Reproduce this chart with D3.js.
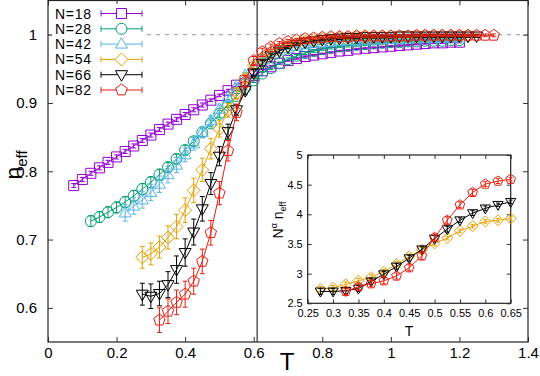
<!DOCTYPE html>
<html><head><meta charset="utf-8">
<script src="https://cdn.jsdelivr.net/npm/d3@7"></script>
<style>body{margin:0;background:#fff}svg{display:block}text{font-family:"Liberation Sans",Arial,sans-serif}</style>
</head><body><svg id="c" width="540" height="376"></svg>
<script>
// ---------- data ----------
const temps = [0.075,0.1,0.125,0.15,0.175,0.2,0.225,0.25,0.275,0.3,0.325,0.35,0.375,0.4,0.425,0.45,0.475,0.5,0.525,0.55,0.575,0.6,0.625,0.65,0.675,0.7,0.725,0.75,0.775,0.8,0.825,0.85,0.875,0.9,0.925,0.95,0.975,1.0,1.025,1.05,1.075,1.1,1.125,1.15,1.175,1.2,1.225,1.25,1.275,1.3];
const sizes = ["N=18","N=28","N=42","N=54","N=66","N=82"];
const startT = [0.075,0.125,0.225,0.275,0.275,0.325];
const n18 = [0.779,0.788,0.797,0.805,0.813,0.821,0.829,0.837,0.845,0.853,0.861,0.869,0.876,0.883,0.890,0.897,0.904,0.911,0.918,0.926,0.933,0.940,0.947,0.953,0.958,0.962,0.965,0.968,0.970,0.972,0.974,0.976,0.977,0.979,0.980,0.981,0.982,0.983,0.984,0.985,0.986,0.987,0.988,0.988,0.989,0.989];
const e18 = [0.003,0.003,0.003,0.003,0.003,0.003,0.003,0.003,0.003,0.003,0.003,0.003,0.003,0.003,0.003,0.003,0.002,0.002,0.002,0.002,0.002,0.002,0.002,0.002,0.001,0.001,0.001,0.001,0.001,0.001,0.001,0.001,0.001,0.001,0.001,0.001,0.001,0.001,0.001,0.001,0.001,0.001,0.001,0.001,0.001,0.001];
const n28 = [0.727,0.733,0.740,0.747,0.755,0.764,0.774,0.784,0.795,0.806,0.818,0.831,0.844,0.857,0.870,0.884,0.897,0.910,0.922,0.933,0.943,0.951,0.958,0.964,0.969,0.973,0.976,0.979,0.981,0.983,0.984,0.985,0.986,0.987,0.988,0.989,0.989,0.990,0.990,0.991,0.991,0.991,0.992,0.992];
const e28 = [0.008,0.008,0.008,0.008,0.008,0.008,0.008,0.008,0.008,0.007,0.007,0.007,0.006,0.006,0.005,0.005,0.004,0.004,0.003,0.003,0.003,0.002,0.002,0.002,0.002,0.002,0.002,0.002,0.002,0.002,0.002,0.002,0.002,0.002,0.002,0.002,0.002,0.002,0.002,0.002,0.002,0.002,0.002,0.002];
const n42 = [0.739,0.749,0.758,0.769,0.781,0.795,0.809,0.824,0.840,0.857,0.874,0.891,0.908,0.925,0.940,0.953,0.963,0.970,0.976,0.980,0.983,0.985,0.987,0.988,0.989,0.990,0.991,0.991,0.992,0.992,0.993,0.993,0.993,0.994,0.994,0.994,0.994,0.995,0.995,0.995];
const e42 = [0.012,0.012,0.012,0.012,0.012,0.012,0.011,0.010,0.009,0.008,0.007,0.006,0.005,0.004,0.004,0.003,0.003,0.002,0.002,0.002,0.002,0.002,0.002,0.002,0.002,0.002,0.002,0.002,0.002,0.002,0.002,0.002,0.002,0.002,0.002,0.002,0.002,0.002,0.002,0.002];
const n54 = [0.674,0.679,0.689,0.703,0.719,0.743,0.772,0.802,0.833,0.862,0.889,0.914,0.936,0.955,0.965,0.973,0.979,0.984,0.987,0.990,0.992,0.993,0.994,0.995,0.995,0.996,0.996,0.996,0.997,0.997,0.997,0.997,0.997,0.998,0.998,0.998,0.998,0.998,0.998];
const e54 = [0.016,0.016,0.016,0.017,0.018,0.018,0.018,0.017,0.015,0.012,0.010,0.008,0.006,0.004,0.003,0.003,0.002,0.002,0.002,0.002,0.002,0.002,0.002,0.002,0.002,0.002,0.002,0.002,0.002,0.002,0.002,0.002,0.002,0.002,0.002,0.002,0.002,0.002,0.002];
const n66 = [0.620,0.617,0.621,0.634,0.656,0.681,0.711,0.745,0.782,0.822,0.858,0.890,0.918,0.944,0.958,0.969,0.976,0.982,0.986,0.989,0.991,0.993,0.994,0.995,0.996,0.996,0.997,0.997,0.997,0.997,0.998,0.998,0.998,0.998,0.998,0.998,0.998,0.998,0.998,0.998];
const e66 = [0.016,0.018,0.018,0.019,0.020,0.020,0.019,0.018,0.016,0.014,0.011,0.008,0.006,0.005,0.004,0.003,0.003,0.002,0.002,0.002,0.002,0.002,0.002,0.002,0.002,0.002,0.002,0.002,0.002,0.002,0.002,0.002,0.002,0.002,0.002,0.002,0.002,0.002,0.002,0.002];
const n82 = [0.582,0.595,0.608,0.620,0.639,0.668,0.710,0.768,0.830,0.886,0.931,0.962,0.975,0.982,0.987,0.990,0.992,0.994,0.995,0.996,0.997,0.997,0.997,0.998,0.998,0.998,0.998,0.998,0.998,0.998,0.999,0.999,0.999,0.999,0.999,0.999,0.999,0.999,0.999,0.999];
const e82 = [0.018,0.018,0.018,0.019,0.019,0.018,0.018,0.017,0.015,0.012,0.009,0.006,0.005,0.004,0.003,0.003,0.002,0.002,0.002,0.002,0.002,0.002,0.002,0.002,0.002,0.002,0.002,0.002,0.002,0.002,0.002,0.002,0.002,0.002,0.002,0.002,0.002,0.002,0.002,0.002];
const Tc = 0.61;
const xTicks = [0,0.2,0.4,0.6,0.8,1,1.2,1.4];
const yTicks = [0.6,0.7,0.8,0.9,1];
// inset (N^alpha n_eff)
const insetT = [0.275,0.3,0.325,0.35,0.375,0.4,0.425,0.45,0.475,0.5,0.525,0.55,0.575,0.6,0.625,0.65];
const insetSizes = ["N=54","N=66","N=82"];
const insetStart = [0.275,0.275,0.325];
const s54 = [2.74,2.76,2.82,2.88,2.94,3.03,3.16,3.29,3.40,3.51,3.60,3.72,3.80,3.88,3.90,3.93];
const s66 = [2.70,2.70,2.71,2.75,2.87,2.99,3.12,3.26,3.41,3.59,3.75,3.90,4.02,4.10,4.16,4.21];
const s82 = [2.70,2.78,2.83,2.88,2.96,3.10,3.30,3.61,3.90,4.16,4.37,4.51,4.56,4.59];
const se54 = [0.04,0.04,0.04,0.04,0.04,0.04,0.04,0.04,0.04,0.04,0.03,0.03,0.03,0.03,0.03,0.03];
const se66 = [0.05,0.05,0.05,0.05,0.05,0.05,0.05,0.05,0.05,0.05,0.05,0.04,0.04,0.04,0.03,0.03];
const se82 = [0.05,0.05,0.05,0.05,0.05,0.05,0.06,0.06,0.06,0.05,0.05,0.04,0.04,0.03];
const insetXTicks = [0.25,0.3,0.35,0.4,0.45,0.5,0.55,0.6,0.65];
const insetYTicks = [2.5,3,3.5,4,4.5,5];

// ---------- styles ----------
const colors = ["#9400d3","#009e73","#56b4e9","#e69f00","#000000","#e51e10"];
const shapes = ["square","circle","triUp","diamond","triDown","pentagon"];

function shapePath(kind, s){
  const p = d3.path();
  if(kind==="square"){ p.rect(-5*s,-5*s,10*s,10*s); }
  else if(kind==="circle"){ p.moveTo(5.5*s,0); p.arc(0,0,5.5*s,0,2*Math.PI); }
  else if(kind==="triUp"){ p.moveTo(0,-6.5*s); p.lineTo(6*s,4*s); p.lineTo(-6*s,4*s); p.closePath(); }
  else if(kind==="triDown"){ p.moveTo(0,6.5*s); p.lineTo(6*s,-4*s); p.lineTo(-6*s,-4*s); p.closePath(); }
  else if(kind==="diamond"){ p.moveTo(0,-6.5*s); p.lineTo(6.5*s,0); p.lineTo(0,6.5*s); p.lineTo(-6.5*s,0); p.closePath(); }
  else if(kind==="pentagon"){ for(let i=0;i<5;i++){ const a=-Math.PI/2+i*2*Math.PI/5; const px=6*s*Math.cos(a), py=6*s*Math.sin(a); if(i===0)p.moveTo(px,py); else p.lineTo(px,py);} p.closePath(); }
  return p.toString();
}

function buildSeries(vals, errs, t0, grid){
  const i0 = grid.findIndex(t=>Math.abs(t-t0)<1e-9);
  return vals.map((v,i)=>({t:grid[i0+i], v, e:errs[i]}));
}

const svg = d3.select("#c");
const fmt = d3.format("~g");

// ---------- main plot ----------
const x = d3.scaleLinear([0,1.4],[48,528]);
const y = d3.scaleLinear([0.55,1.05],[342,0.5]);

const mainSeries = [
  buildSeries(n18,e18,startT[0],temps),
  buildSeries(n28,e28,startT[1],temps),
  buildSeries(n42,e42,startT[2],temps),
  buildSeries(n54,e54,startT[3],temps),
  buildSeries(n66,e66,startT[4],temps),
  buildSeries(n82,e82,startT[5],temps)
];

function drawAxes(g, xs, ys, xt, yt, opts){
  const [x0,x1]=xs.range(), [y0,y1]=ys.range();
  g.append("g").attr("transform",`translate(0,${y0})`)
    .call(d3.axisBottom(xs).tickValues(xt).tickFormat(fmt).tickSizeInner(-opts.tick).tickSizeOuter(0).tickPadding(opts.xpad))
    .call(a=>{a.select(".domain").remove(); a.selectAll("text").attr("font-size",opts.fs).attr("fill","#000");});
  g.append("g").attr("transform",`translate(0,${y1})`)
    .call(d3.axisTop(xs).tickValues(xt).tickFormat("").tickSizeInner(-opts.tick).tickSizeOuter(0))
    .call(a=>a.select(".domain").remove());
  g.append("g").attr("transform",`translate(${x0},0)`)
    .call(d3.axisLeft(ys).tickValues(yt).tickFormat(fmt).tickSizeInner(-opts.tick).tickSizeOuter(0).tickPadding(opts.ypad))
    .call(a=>{a.select(".domain").remove(); a.selectAll("text").attr("font-size",opts.fs).attr("fill","#000");});
  g.append("g").attr("transform",`translate(${x1},0)`)
    .call(d3.axisRight(ys).tickValues(yt).tickFormat("").tickSizeInner(-opts.tick).tickSizeOuter(0))
    .call(a=>a.select(".domain").remove());
  g.selectAll(".tick line").attr("stroke","#333");
  g.append("rect").attr("x",x0).attr("y",y1).attr("width",x1-x0).attr("height",y0-y1)
    .attr("fill","none").attr("stroke","#222").attr("stroke-width",1.2);
}

const main = svg.append("g");
main.append("line").attr("x1",x(0)).attr("x2",x(1.4)).attr("y1",y(1)).attr("y2",y(1))
  .attr("stroke","#aaa").attr("stroke-width",1.2).attr("stroke-dasharray","4,5");
main.append("line").attr("x1",x(Tc)).attr("x2",x(Tc)).attr("y1",y(0.55)).attr("y2",y(1.05))
  .attr("stroke","#333").attr("stroke-width",1.2);
drawAxes(main, x, y, xTicks, yTicks, {tick:5, xpad:5, ypad:11, fs:15});

function drawSeries(g, data, xs, ys, color, shape, s, cap){
  const gg = g.append("g");
  gg.selectAll("path.err").data(data).join("path").attr("class","err")
    .attr("d",d=>{const xx=xs(d.t), a=ys(d.v-d.e), b=ys(d.v+d.e);
      return `M${xx},${a}V${b}M${xx-cap},${a}H${xx+cap}M${xx-cap},${b}H${xx+cap}`;})
    .attr("stroke",color).attr("stroke-width",1).attr("fill","none");
  gg.append("path").datum(data).attr("d",d3.line().x(d=>xs(d.t)).y(d=>ys(d.v)))
    .attr("stroke",color).attr("stroke-width",1).attr("fill","none");
  gg.selectAll("path.pt").data(data).join("path").attr("class","pt")
    .attr("transform",d=>`translate(${xs(d.t)},${ys(d.v)})`)
    .attr("d",shapePath(shape,s)).attr("stroke",color).attr("stroke-width",1).attr("fill","none");
}
mainSeries.forEach((d,i)=>drawSeries(main,d,x,y,colors[i],shapes[i],1,2.5));

// legend
const leg = svg.append("g");
leg.append("rect").attr("x",52).attr("y",4).attr("width",94).attr("height",94).attr("fill","#fff");
sizes.forEach((lab,i)=>{
  const yy = 13.5 + i*15.3;
  leg.append("text").attr("x",55).attr("y",yy+5).attr("font-size",14).attr("textLength",36).text(lab);
  leg.append("path").attr("d",`M101,${yy}H142M101,${yy-3}V${yy+3}M142,${yy-3}V${yy+3}`)
    .attr("stroke",colors[i]).attr("stroke-width",1).attr("fill","none");
  leg.append("path").attr("transform",`translate(121.5,${yy})`).attr("d",shapePath(shapes[i],1))
    .attr("stroke",colors[i]).attr("fill","#fff").attr("stroke-width",1);
});

// axis labels
svg.append("text").attr("x",287).attr("y",370).attr("text-anchor","middle").attr("font-size",24).text("T");
const yl = svg.append("text").attr("transform","translate(22,165) rotate(-90)").attr("text-anchor","middle").attr("font-size",23);
yl.append("tspan").text("n");
yl.append("tspan").attr("font-size",15).attr("dy",5).text("eff");

// ---------- inset ----------
const xi = d3.scaleLinear([0.25,0.65],[307.7,510.7]);
const yi = d3.scaleLinear([2.5,5],[303.3,155]);
const inset = svg.append("g");
inset.append("rect").attr("x",307.7).attr("y",155).attr("width",203).attr("height",148.3).attr("fill","#fff");
drawAxes(inset, xi, yi, insetXTicks, insetYTicks, {tick:4, xpad:6, ypad:5, fs:11});
const insetSeries = [
  buildSeries(s54,se54,insetStart[0],insetT),
  buildSeries(s66,se66,insetStart[1],insetT),
  buildSeries(s82,se82,insetStart[2],insetT)
];
insetSeries.forEach((d,i)=>drawSeries(inset,d,xi,yi,colors[i+3],shapes[i+3],0.85,2));
svg.append("text").attr("x",409).attr("y",336).attr("text-anchor","middle").attr("font-size",14).text("T");
const iyl = svg.append("text").attr("transform","translate(283,220) rotate(-90)").attr("text-anchor","middle").attr("font-size",14);
iyl.append("tspan").text("N");
iyl.append("tspan").attr("font-size",9).attr("dy",-6).text("α");
iyl.append("tspan").attr("dy",6).text(" n");
iyl.append("tspan").attr("font-size",9).attr("dy",3).text("eff");
</script></body></html>
